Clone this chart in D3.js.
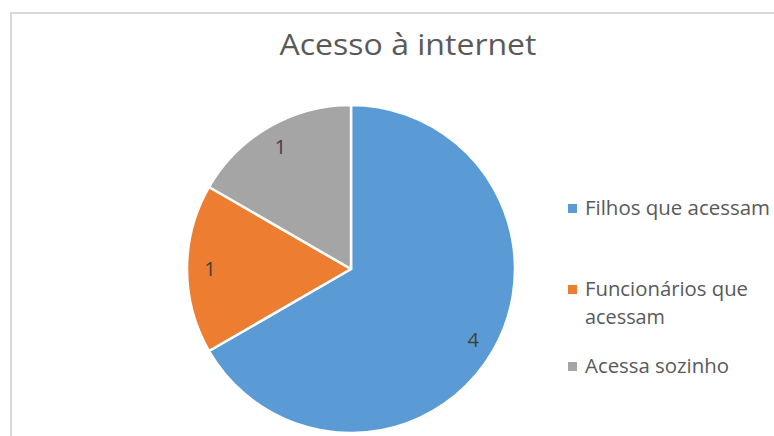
<!DOCTYPE html>
<html>
<head>
<meta charset="utf-8">
<script src="https://cdn.jsdelivr.net/npm/d3@7"></script>
<style>
  html, body { margin: 0; padding: 0; background: #fff; }
  svg { display: block; font-family: "Open Sans", "Noto Sans", sans-serif; }
</style>
</head>
<body>
<div id="chart"></div>
<script>
const title = "Acesso à internet";
const categories = ["Filhos que acessam", "Funcionários que acessam", "Acessa sozinho"];
const values = [4, 1, 1];
const colors = ["#5B9BD5", "#ED7D31", "#A5A5A5"];
const legendLines = [["Filhos que acessam"], ["Funcionários que", "acessam"], ["Acessa sozinho"]];

const W = 774, H = 436;
const cx = 351, cy = 269, r = 164;

const svg = d3.select("#chart").append("svg")
  .attr("width", W)
  .attr("height", H);

// chart frame (cut off on the right and bottom)
svg.append("rect")
  .attr("x", 11).attr("y", 13)
  .attr("width", 800).attr("height", 500)
  .attr("fill", "#fff")
  .attr("stroke", "#d9d9d9")
  .attr("stroke-width", 2);

// title
svg.append("text")
  .attr("x", 408).attr("y", 55)
  .attr("text-anchor", "middle")
  .attr("font-size", 30)
  .attr("fill", "#595959")
  .attr("textLength", 257)
  .attr("lengthAdjust", "spacingAndGlyphs")
  .text(title);

// pie
const pie = d3.pie().sort(null).value(d => d);
const arcs = pie(values);
const arc = d3.arc().innerRadius(0).outerRadius(r);
const labelArc = d3.arc().innerRadius(r * 0.72).outerRadius(r);

const g = svg.append("g").attr("transform", `translate(${cx},${cy})`);

g.selectAll("path")
  .data(arcs)
  .join("path")
  .attr("d", arc)
  .attr("fill", (d, i) => colors[i])
  .attr("stroke", "#fff")
  .attr("stroke-width", 2.5)
  .attr("stroke-linejoin", "round");

g.selectAll("text.lbl")
  .data(arcs)
  .join("text")
  .attr("class", "lbl")
  .attr("transform", d => {
    const [x, y] = labelArc.centroid(d);
    return `translate(${x},${y})`;
  })
  .attr("text-anchor", "middle")
  .attr("dy", "0.35em")
  .attr("font-size", 20)
  .attr("fill", "#404040")
  .text(d => d.data);

// legend
const legendX = 568, textX = 585;
const legendBase = [215, 296, 373];
const lineH = 28;
const legendWidths = [[185], [163, 80], [144]];

const leg = svg.append("g");
legendLines.forEach((lines, i) => {
  leg.append("rect")
    .attr("x", legendX)
    .attr("y", legendBase[i] - 11)
    .attr("width", 9).attr("height", 9)
    .attr("fill", colors[i]);
  lines.forEach((t, j) => {
    leg.append("text")
      .attr("x", textX)
      .attr("y", legendBase[i] + j * lineH)
      .attr("font-size", 19.5)
      .attr("fill", "#595959")
      .attr("textLength", legendWidths[i][j])
      .attr("lengthAdjust", "spacingAndGlyphs")
      .text(t);
  });
});
</script>
</body>
</html>
